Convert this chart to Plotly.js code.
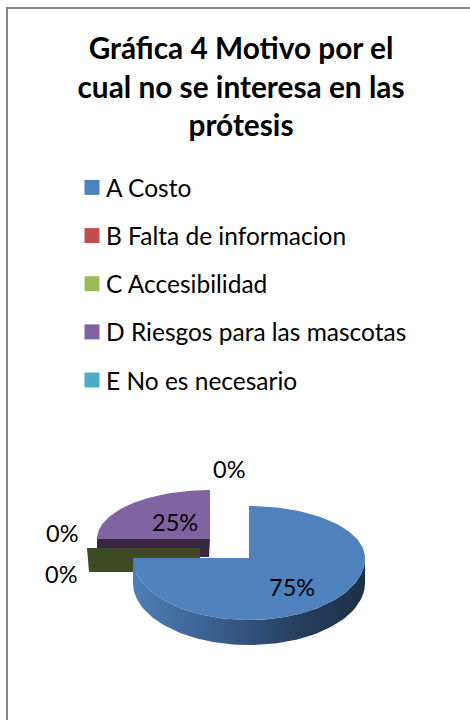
<!DOCTYPE html>
<html>
<head>
<meta charset="utf-8">
<script src="https://cdn.plot.ly/plotly-3.0.1.min.js"></script>
<style>html,body{margin:0;padding:0;background:#fff;overflow:hidden}#chart{width:470px;height:720px}</style>
</head>
<body>
<div id="chart"></div>
<script>
// ---- data ----
const categories = ['A Costo', 'B Falta de informacion', 'C Accesibilidad', 'D Riesgos para las mascotas', 'E No es necesario'];
const values = [75, 0, 0, 25, 0];
const titleText = 'Gráfica 4 Motivo por el<br>cual no se interesa en las<br>prótesis';

// ---- styles ----
const topColors = ['#4F81BD', '#C0504D', '#9BBB59', '#8064A2', '#4BACC6'];
const wallColors = ['#2F4C75', '#5E2624', '#3E4A24', '#37273F', '#24566A'];
const FONT = 'Lato, Carlito, Calibri, sans-serif';

// ---- 3D pie projection (perspective ellipse), one setting per slice ----
const slicePose = [
  {cx: 249, cy: 558, rx: 116, up: 52, down: 62},
  {cx: 200, cy: 548, rx: 113, up: 50, down: 58},
  {cx: 200, cy: 548, rx: 113, up: 50, down: 58},
  {cx: 210, cy: 539, rx: 113, up: 49, down: 58},
  {cx: 220, cy: 530, rx: 113, up: 49, down: 58}
];
const DEPTH = 25, STEP = 2;
const total = values.reduce((a, b) => a + b, 0);
const rad = d => d * Math.PI / 180;
function rim(p, deg, dy) {
  const c = Math.cos(rad(deg));
  return [p.cx + p.rx * Math.sin(rad(deg)), p.cy - (c > 0 ? p.up : p.down) * c + (dy || 0)];
}
function arc(p, a, b, dy) {
  const out = [], n = Math.max(1, Math.ceil(Math.abs(b - a) / STEP));
  for (let i = 0; i <= n; i++) out.push(rim(p, a + (b - a) * i / n, dy));
  return out;
}
function poly(pts, color, extra) {
  return Object.assign({
    type: 'scatter', mode: 'lines', x: pts.map(q => q[0]), y: pts.map(q => q[1]),
    fill: 'toself', fillcolor: color, line: {width: 0, color: color},
    hoverinfo: 'skip', showlegend: false
  }, extra || {});
}

// cumulative angles from the values
const angles = [];
values.reduce((acc, v, i) => { angles[i] = [acc * 360 / total, (acc + v) * 360 / total]; return acc + v; }, 0);

const traces = [];
// slices are painted back to front: D, then the zero-size wall of C, then A
[3, 1, 2, 0].forEach(i => {
  const p = slicePose[i], [a, b] = angles[i];
  if (values[i] === 0) {
    if (i === 2) {
      const end = rim(p, a);
      traces.push(poly([[p.cx, p.cy], end, [end[0] + 2, end[1] + DEPTH - 1], [p.cx, p.cy + DEPTH - 1], [p.cx, p.cy]], wallColors[i]));
    }
    return;
  }
  // outer wall where the arc faces the viewer
  const lo = Math.max(a, 90), hi = Math.min(b, 270);
  if (hi > lo) {
    const wall = arc(p, lo, hi, 0).concat(arc(p, hi, lo, DEPTH));
    traces.push(poly(wall, wallColors[i], {
      fillcolor: undefined,
      fillgradient: {type: 'horizontal', colorscale: [[0, '#4F7FB5'], [0.35, '#3A5F8F'], [0.7, '#27405F'], [1, '#1C3047']]}
    }));
  }
  // cut wall of a slice that has been pulled away
  if (a >= 270) {
    const start = rim(p, a);
    traces.push(poly([[p.cx, p.cy], start, [start[0], start[1] + DEPTH - 7], [p.cx - 1, p.cy + DEPTH - 7]], wallColors[i]));
  }
  // top face
  traces.push(poly([[p.cx, p.cy]].concat(arc(p, a, b, 0), [[p.cx, p.cy]]), topColors[i]));
});

// legend entries
categories.forEach((c, i) => traces.push({
  type: 'scatter', mode: 'markers', x: [null], y: [null], name: c, legendgroup: c,
  marker: {symbol: 'square', size: 15, color: topColors[i]}, hoverinfo: 'skip'
}));

// data labels
const labelPos = [[292, 587], [62, 533], [61, 574], [175, 522], [229, 469]];
const annotations = values.map((v, i) => ({
  x: labelPos[i][0], y: labelPos[i][1], xref: 'x', yref: 'y', showarrow: false,
  text: Math.round(v / total * 100) + '%', font: {family: FONT, size: 23.5, color: '#000'}
}));

const layout = {
  width: 470, height: 720, margin: {l: 0, r: 0, t: 0, b: 0},
  paper_bgcolor: '#fff', plot_bgcolor: 'rgba(0,0,0,0)',
  font: {family: FONT, color: '#000'},
  title: {text: titleText, font: {family: FONT, size: 29.8, weight: 700, color: '#000'},
          x: 241 / 470, xanchor: 'center', y: 1 - 59 / 720, yanchor: 'top'},
  xaxis: {range: [0, 470], visible: false, fixedrange: true},
  yaxis: {range: [720, 0], visible: false, fixedrange: true},
  showlegend: true,
  legend: {x: 66 / 470, xanchor: 'left', y: 1 - 165 / 720, yanchor: 'top', bgcolor: 'rgba(0,0,0,0)',
           font: {family: FONT, size: 24.5, color: '#000'}, tracegroupgap: 13.3, itemclick: false, itemdoubleclick: false},
  annotations: annotations,
  shapes: [{type: 'rect', xref: 'paper', yref: 'paper', x0: 7 / 470, x1: 1.1, y0: -0.1, y1: 1 - 8 / 720,
            line: {color: '#868686', width: 2}, fillcolor: 'rgba(0,0,0,0)', layer: 'below'}]
};
Plotly.newPlot('chart', traces, layout, {displayModeBar: false, staticPlot: true}).then(() => {
  document.querySelectorAll('#chart .legendsymbols').forEach(g => g.setAttribute('transform', 'translate(6,0)'));
});
</script>
</body>
</html>
